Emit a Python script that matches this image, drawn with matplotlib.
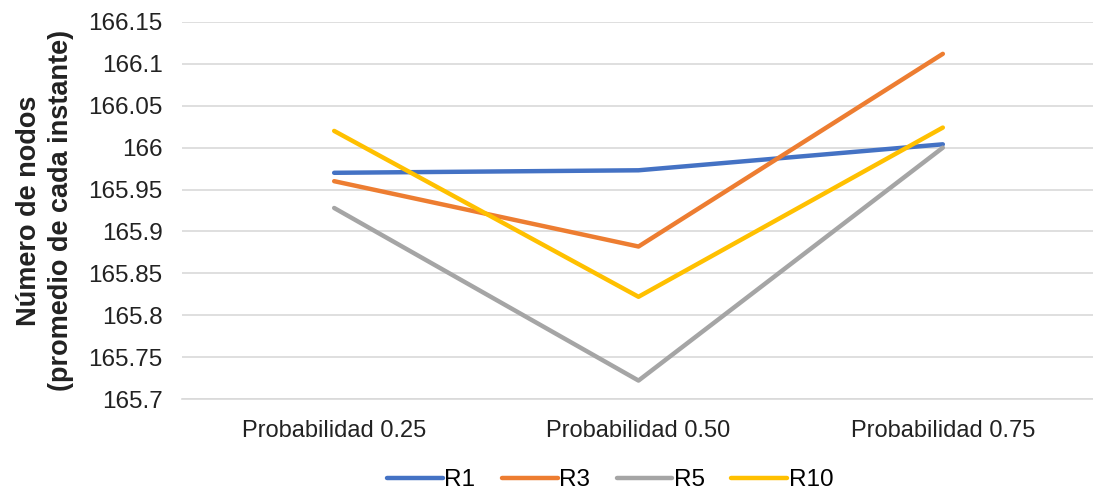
import matplotlib
matplotlib.use("Agg")
from matplotlib import pyplot as plt

plt.rcParams['font.family'] = ['Liberation Sans', 'DejaVu Sans']

categories = ['Probabilidad 0.25', 'Probabilidad 0.50', 'Probabilidad 0.75']
r1 = [165.970, 165.973, 166.004]
r3 = [165.960, 165.882, 166.112]
r5 = [165.928, 165.722, 166.000]
r10 = [166.020, 165.822, 166.024]
yticks = [165.7, 165.75, 165.8, 165.85, 165.9, 165.95, 166, 166.05, 166.1, 166.15]
ytick_labels = ['165.7', '165.75', '165.8', '165.85', '165.9', '165.95',
                '166', '166.05', '166.1', '166.15']

fig = plt.figure(figsize=(10.93, 4.91), dpi=100)
ax = fig.add_axes([182 / 1093, 1 - 399 / 491, (1095 - 182) / 1093, (399 - 22) / 491])

x = range(len(categories))
ax.plot(x, r1, color='#4472C4', lw=3.2, label='R1', solid_capstyle='round')
ax.plot(x, r3, color='#ED7D31', lw=3.2, label='R3', solid_capstyle='round')
ax.plot(x, r5, color='#A5A5A5', lw=3.2, label='R5', solid_capstyle='round')
ax.plot(x, r10, color='#FFC000', lw=3.2, label='R10', solid_capstyle='round')

ax.set_xlim(-0.5, 2.5)
ax.set_ylim(165.7, 166.15)
ax.set_xticks(list(x))
ax.set_xticklabels(categories, fontsize=17, color='#222222')
ax.set_yticks(yticks)
ax.set_yticklabels(ytick_labels, fontsize=17.5, color='#222222')
ax.tick_params(length=0, axis='y', pad=14)
ax.tick_params(length=0, axis='x', pad=15)
ax.grid(axis='y', color='#D9D9D9', lw=1.2)
ax.set_axisbelow(True)
for s in ax.spines.values():
    s.set_visible(False)
ax.spines['bottom'].set_visible(True)
ax.spines['bottom'].set_color('#D9D9D9')
ax.spines['bottom'].set_linewidth(1.2)

ax.set_ylabel('Número de nodos\n(promedio de cada instante)', fontsize=19.5,
              fontweight='bold', color='#222222', labelpad=10, linespacing=1.3)

ax.legend(loc='center', bbox_to_anchor=(610 / 1093, 1 - 480 / 491), bbox_transform=fig.transFigure,
          ncol=4, frameon=False, fontsize=17.5, handlelength=2.3, handletextpad=0.05,
          columnspacing=1.1)

fig.savefig('out.png', dpi=100)
